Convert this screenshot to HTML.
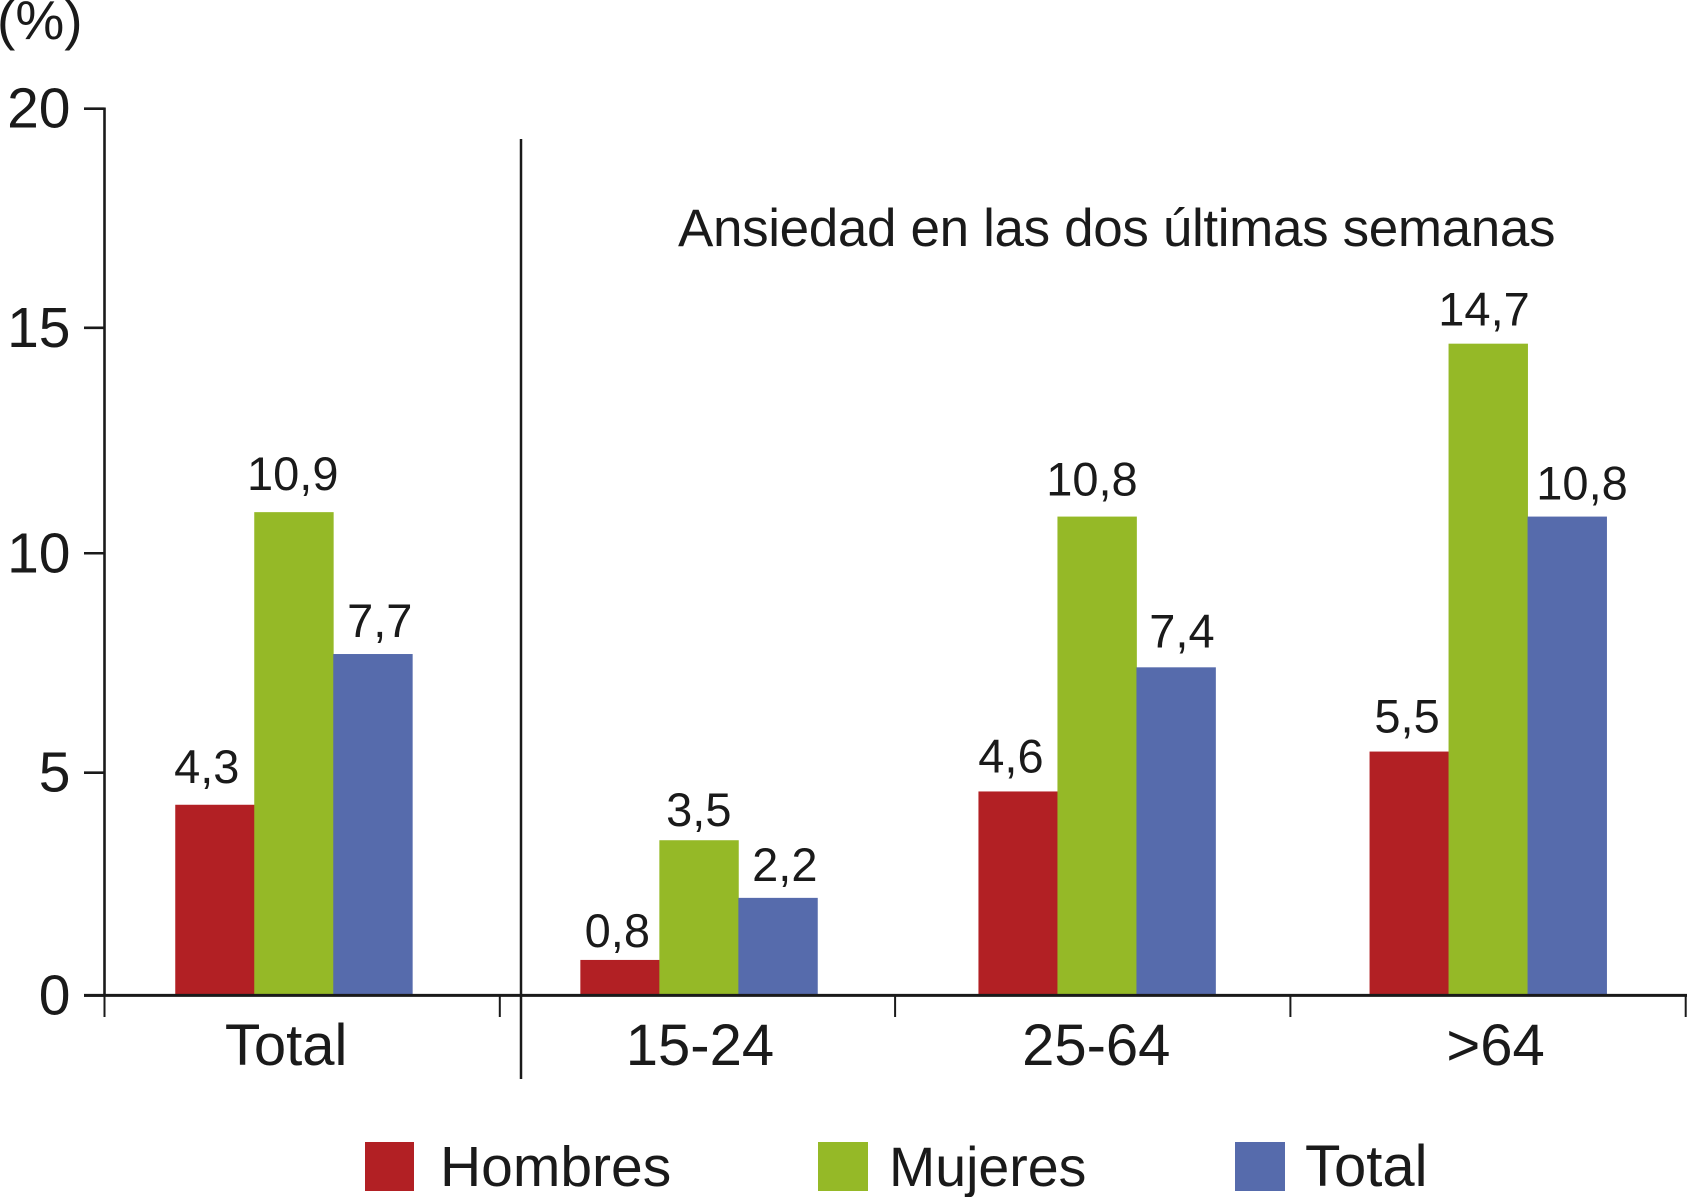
<!DOCTYPE html>
<html lang="es">
<head>
<meta charset="utf-8">
<title>Ansiedad en las dos últimas semanas</title>
<style>
html,body{margin:0;padding:0;background:#fff;width:1687px;height:1197px;overflow:hidden}
svg{display:block;font-family:"Liberation Sans",Arial,sans-serif;fill:#1a1a1a}
</style>
</head>
<body>
<svg id="chart" xmlns="http://www.w3.org/2000/svg" width="1687" height="1197" viewBox="0 0 1687 1197">
  <rect x="0" y="0" width="1687" height="1197" fill="#fff"/>
  <text x="-3" y="39" font-size="55">(%)</text>
  <text x="678" y="246" font-size="53" letter-spacing="-0.36">Ansiedad en las dos últimas semanas</text>
  <line x1="521" y1="139" x2="521" y2="1079" stroke="#1a1a1a" stroke-width="2.5"/>
  <g id="bars"></g>
  <g id="axes"></g>
  <g id="values"></g>
  <g>
    <rect x="365" y="1142" width="49" height="49" fill="#b22024"/>
    <text x="440" y="1186" font-size="57">Hombres</text>
    <rect x="818" y="1142" width="50" height="49" fill="#95b927"/>
    <text x="889" y="1186" font-size="55.5">Mujeres</text>
    <rect x="1235" y="1142" width="50" height="49" fill="#566bac"/>
    <text x="1305" y="1186" font-size="58">Total</text>
  </g>
</svg>
<script>
const categories = ["Total", "15-24", "25-64", ">64"];
const hombres = [4.3, 0.8, 4.6, 5.5];
const mujeres = [10.9, 3.5, 10.8, 14.7];
const total = [7.7, 2.2, 7.4, 10.8];
const yTicks = [0, 5, 10, 15, 20];

const NS = "http://www.w3.org/2000/svg";
const INK = "#1a1a1a";
const Y0 = 995.4, Y_PER_UNIT = 44.335;
const BAND_START = 104.5, BAND_WIDTH = 395.3;
const BAR_WIDTH = 79;
const groupNudge = [-8.4, 1.4, 4.2, 0];
const categoryLabelNudge = [-16, 2.5, 3.5, 7.5];
const yTickNudge = [0, -1, 1.2, -2.6, 0];
const labelNudgeX = [
  [-8, -2.5, -7, -2],
  [-1, 0, -5, -4],
  [7, 7, 6, 15]
];
const labelNudgeY = [
  [-5, 4, -2, -2],
  [-5, 3, -4, -1],
  [0, 0, -3, 0]
];
const seriesList = [
  { key: "hombres", values: hombres, color: "#b22024" },
  { key: "mujeres", values: mujeres, color: "#95b927" },
  { key: "total", values: total, color: "#566bac" }
];

function yScale(v) { return Y0 - v * Y_PER_UNIT; }
function bandStart(i) { return BAND_START + i * BAND_WIDTH; }
function bandCenter(i) { return bandStart(i) + BAND_WIDTH / 2; }
function barLeft(i, s) { return bandCenter(i) + groupNudge[i] + (s - seriesList.length / 2) * BAR_WIDTH; }

function make(tag, parent, attrs, text) {
  const el = document.createElementNS(NS, tag);
  for (const k in attrs) el.setAttribute(k, attrs[k]);
  if (text !== undefined) el.textContent = text;
  parent.appendChild(el);
  return el;
}

const barsG = document.getElementById("bars");
const axesG = document.getElementById("axes");
const valuesG = document.getElementById("values");

seriesList.forEach(function (series, s) {
  series.values.forEach(function (v, i) {
    const top = yScale(v);
    const bar = make("rect", barsG, { x: barLeft(i, s), y: top, width: BAR_WIDTH + 0.4, height: Y0 - top, fill: series.color });
    
    
    const label = make("text", valuesG, {
      x: barLeft(i, s) + BAR_WIDTH / 2 + labelNudgeX[s][i],
      y: top - 17 + labelNudgeY[s][i],
      "font-size": 47,
      "text-anchor": "middle"
    }, v.toFixed(1).replace(".", ","));
    
    
  });
});

const yAxisLine = make("line", axesG, { x1: 104.5, y1: yScale(yTicks[yTicks.length - 1]) - 1.2, x2: 104.5, y2: Y0, stroke: INK, "stroke-width": 2.6 });



const xAxisLine = make("line", axesG, { x1: 84, y1: Y0, x2: 1687, y2: Y0, stroke: INK, "stroke-width": 3 });



yTicks.forEach(function (t, k) {
  const y = yScale(t) + yTickNudge[k];
  const mark = make("line", axesG, { x1: 84, y1: y, x2: 104.5, y2: y, stroke: INK, "stroke-width": 2.6 });
  
  
  const label = make("text", axesG, { x: 70.5, y: y + 19, "font-size": 57, "text-anchor": "end" }, String(t));
  
  
});

for (let i = 0; i <= categories.length; i++) {
  const x = Math.min(bandStart(i), 1686);
  const mark = make("line", axesG, { x1: x, y1: Y0, x2: x, y2: 1017, stroke: INK, "stroke-width": 2 });
  
  
}

categories.forEach(function (c, i) {
  const label = make("text", axesG, { x: bandCenter(i) + categoryLabelNudge[i], y: 1065, "font-size": 58, "text-anchor": "middle" }, c);
  
  
});
</script>
</body>
</html>
